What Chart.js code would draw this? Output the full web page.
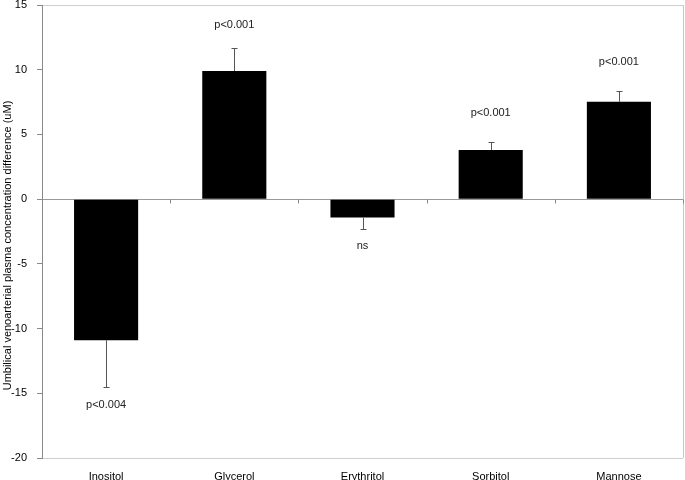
<!DOCTYPE html>
<html>
<head>
<meta charset="utf-8">
<script src="https://cdn.jsdelivr.net/npm/chart.js@4"></script>
<style>
html,body{margin:0;padding:0;background:#fff;}
#wrap{width:685px;height:480px;position:relative;}
</style>
</head>
<body>
<div id="wrap"><canvas id="c" width="685" height="480"></canvas></div>
<script>
const categories = ['Inositol', 'Glycerol', 'Erythritol', 'Sorbitol', 'Mannose'];
const values = [-10.9, 9.9, -1.42, 3.8, 7.52];
const errorEnds = [-14.5, 11.7, -2.32, 4.4, 8.32];
const pLabels = ['p<0.004', 'p<0.001', 'ns', 'p<0.001', 'p<0.001'];
const pLabelY = [-15.9, 13.45, -3.6, 6.65, 10.6];
const yTicks = [15, 10, 5, 0, -5, -10, -15, -20];
const yTitle = 'Umbilical venoarterial plasma concentration difference (uM)';

const FONT = 'Liberation Sans, Arial, sans-serif';

const extras = {
  id: 'extras',
  afterDatasetsDraw(chart) {
    const ctx = chart.ctx;
    const y = chart.scales.y;
    const area = chart.chartArea;
    ctx.save();
    // right frame
    ctx.strokeStyle = '#c8c8c8';
    ctx.lineWidth = 1;
    ctx.beginPath();
    ctx.moveTo(area.right + 0.5, area.top);
    ctx.lineTo(area.right + 0.5, area.bottom);
    ctx.stroke();
    // category tick marks on zero line
    const y0 = Math.round(y.getPixelForValue(0)) + 0.5;
    const meta = chart.getDatasetMeta(0);
    const step = (area.right - area.left) / categories.length;
    ctx.strokeStyle = '#888';
    for (let i = 1; i <= categories.length; i++) {
      const px = Math.round(area.left + step * i) + 0.5;
      ctx.beginPath();
      ctx.moveTo(px, y0);
      ctx.lineTo(px, y0 + 4);
      ctx.stroke();
    }
    // error bars
    ctx.strokeStyle = '#555';
    meta.data.forEach((bar, i) => {
      const px = Math.round(bar.x) + 0.5;
      const yv = y.getPixelForValue(values[i]);
      const ye = Math.round(y.getPixelForValue(errorEnds[i])) + 0.5;
      ctx.beginPath();
      ctx.moveTo(px, yv);
      ctx.lineTo(px, ye);
      ctx.moveTo(px - 3, ye);
      ctx.lineTo(px + 3, ye);
      ctx.stroke();
      // p labels
      ctx.fillStyle = '#222';
      ctx.font = '11px ' + FONT;
      ctx.textAlign = 'center';
      ctx.textBaseline = 'middle';
      ctx.fillText(pLabels[i], bar.x, y.getPixelForValue(pLabelY[i]));
    });
    // y axis title (rotated)
    ctx.translate(8, (area.top + area.bottom) / 2 + 14);
    ctx.rotate(-Math.PI / 2);
    ctx.fillStyle = '#000';
    ctx.font = '11px ' + FONT;
    ctx.textAlign = 'center';
    ctx.textBaseline = 'middle';
    ctx.fillText(yTitle, 0, 0);
    ctx.restore();
  }
};

new Chart(document.getElementById('c'), {
  type: 'bar',
  data: {
    labels: categories,
    datasets: [{
      data: values,
      backgroundColor: '#000',
      borderColor: '#000',
      borderWidth: 0,
      barPercentage: 0.5,
      categoryPercentage: 1.0
    }]
  },
  options: {
    responsive: false,
    animation: false,
    devicePixelRatio: 1,
    layout: { padding: { top: 0, right: 2, left: 0, bottom: 0 } },
    plugins: { legend: { display: false }, tooltip: { enabled: false } },
    scales: {
      x: {
        grid: { display: false },
        border: { display: false },
        ticks: { color: '#000', font: { family: FONT, size: 11 }, padding: 4 },
        afterFit(s) { s.height = 22; }
      },
      y: {
        min: -20, max: 15,
        afterBuildTicks(s) { s.ticks = yTicks.map(v => ({ value: v })); },
        border: { display: true, color: '#888' },
        grid: {
          drawOnChartArea: true,
          color: c => c.tick.value === 0 ? '#999' : ((c.tick.value === 15 || c.tick.value === -20) ? '#cfcfcf' : 'rgba(0,0,0,0)'),
          tickColor: '#888',
          tickLength: 5
        },
        ticks: { color: '#000', font: { family: FONT, size: 11 }, padding: 10 },
        title: { display: false },
        afterFit(s) { s.width = 42; s.paddingTop = 5; s.paddingBottom = 0; }
      }
    }
  },
  plugins: [extras]
});
</script>
</body>
</html>
